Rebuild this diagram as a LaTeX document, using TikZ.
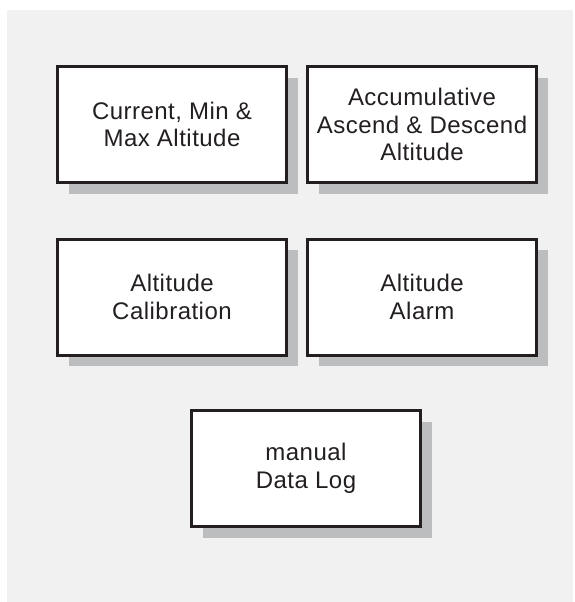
\documentclass[tikz,border=0pt]{standalone}
\usepackage{fontspec}
\setmainfont[LetterSpace=2]{Liberation Sans}
\usetikzlibrary{shadows}
\definecolor{bggray}{HTML}{F1F1F1}
\definecolor{shadowgray}{HTML}{BCBDBF}
\definecolor{inkdark}{HTML}{231F20}
\tikzset{
  featbox/.style={draw=inkdark, line width=3pt, fill=white, text=inkdark,
    minimum width=229pt, minimum height=116pt, align=center, inner sep=0pt,
    font=\fontsize{24}{27.5}\selectfont,
    drop shadow={shadow xshift=11pt, shadow yshift=-11pt, opacity=1, fill=shadowgray}}
}
\begin{document}
\begin{tikzpicture}[x=1pt,y=1pt]
\useasboundingbox (0,0) rectangle (574,-602);
\fill[bggray] (7,-10) rectangle (573,-602);
\node[featbox] (cur) at (172,-124.5) {Current, Min \&\\Max Altitude};
\node[featbox] (acc) at (422,-124.5) {Accumulative\\Ascend \& Descend\\Altitude};
\node[featbox] (cal) at (172,-297) {Altitude\\Calibration};
\node[featbox] (alm) at (422,-297) {Altitude\\Alarm};
\node[featbox] (log) at (306,-468.5) {manual\\Data Log};
\end{tikzpicture}
\end{document}
